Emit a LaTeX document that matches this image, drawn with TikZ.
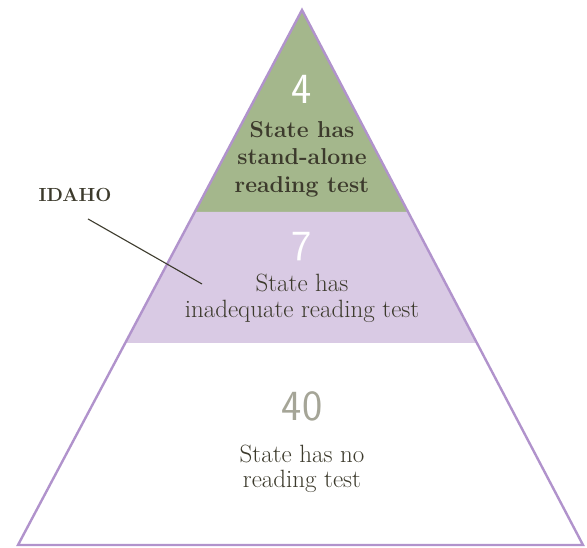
\documentclass[tikz,border=0pt]{standalone}
\usepackage{tikz}
\usetikzlibrary{calc}
\definecolor{tiergreen}{HTML}{A4B78C}
\definecolor{tierlilac}{HTML}{D9CAE4}
\definecolor{edgelilac}{HTML}{B193CC}
\definecolor{inkdark}{HTML}{3C3A2C}
\definecolor{numgrey}{HTML}{A5A597}
\tikzset{
	tiertext/.style={align=center, inner sep=0pt, text=inkdark, font=\fontsize{25}{26}\selectfont},
	tiernum/.style={inner sep=0pt, font=\sffamily\fontsize{43}{43}\selectfont}
}

\begin{document}
\begin{tikzpicture}[x=1pt, y=-1pt]
		%%%%% START %%%%%
		\useasboundingbox (0, 0) rectangle (587, 548);
		
		\coordinate (apex) at (302, 10);
		\coordinate (baseL) at (18, 545);
		\coordinate (baseR) at (583, 545);
		
		% bands
		\fill[tiergreen] (apex) -- (194.8, 212) -- (408.1, 212) -- cycle;
		\fill[tierlilac] (194.8, 212) -- (125.2, 343) -- (476.9, 343) -- (408.1, 212) -- cycle;
		
		\draw[line width=2.4pt, color=edgelilac, line join=miter] (apex) -- (baseL) -- (baseR) -- cycle;
		
		% top
		\node[tiernum, text=white] (numtop) at (302, 89) {4};
		\node[tiertext, font=\bfseries\fontsize{23}{27.5}\selectfont] (texttop) at (302, 159) {State has\\stand-alone\\reading test};
		
		% middle
		\node[tiernum, text=white] (nummid) at (302, 247) {7};
		\node[tiertext, font=\fontsize{25}{26}\selectfont] (textmid) at (302, 298) {State has\\inadequate reading test};
		
		% bottom
		\node[tiernum, text=numgrey] (numbot) at (302, 406) {40};
		\node[tiertext, font=\fontsize{25}{25}\selectfont] (textbot) at (302, 469) {State has no\\reading test};
		
		% idaho
		\node[text=inkdark, inner sep=0pt, font=\bfseries\fontsize{19}{19}\selectfont] (idaho) at (75, 195) {IDAHO};
		\coordinate (idahotip) at (202, 284);
		\draw[line width=1.1pt, color=inkdark] (idaho.south) ++(13, 17) -- (idahotip);
		
		%%%%% END %%%%%
	\end{tikzpicture}
\end{document}
